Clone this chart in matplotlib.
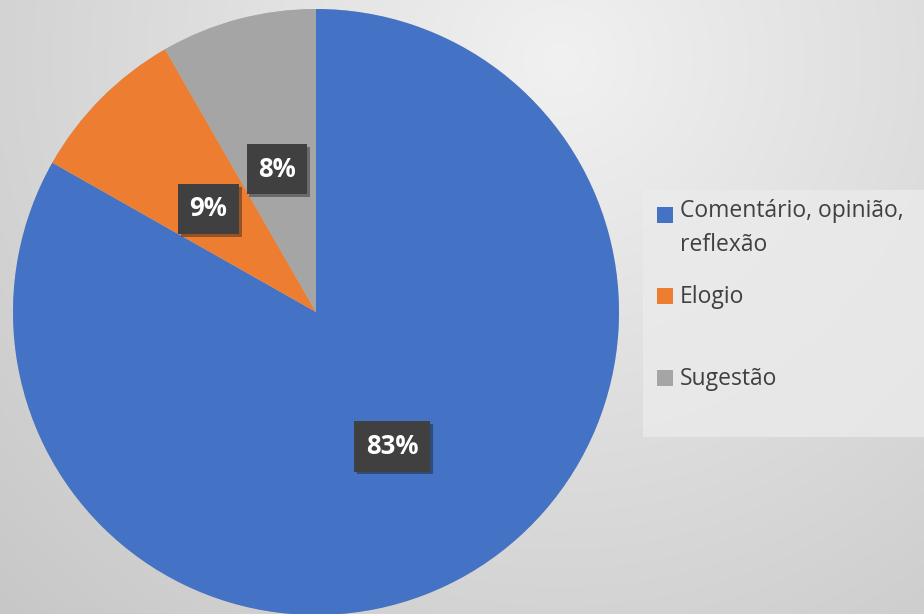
import numpy as np
import matplotlib.pyplot as plt
from matplotlib.patches import Rectangle
import matplotlib.patheffects as pe

# dados do gráfico (percentuais)
categorias = ['Comentário, opinião,\nreflexão', 'Elogio', 'Sugestão']
valores = [83.2, 8.5, 8.3]
cores = ['#4472C4', '#ED7D31', '#A5A5A5']

plt.rcParams['font.family'] = ['Open Sans', 'DejaVu Sans']

W, H = 924, 614
fig = plt.figure(figsize=(W / 100, H / 100), dpi=100)

# fundo em degradê radial
bg = fig.add_axes([0, 0, 1, 1])
yy, xx = np.mgrid[0:H, 0:W]
d = np.sqrt((xx - 560) ** 2 + (yy - 60) ** 2) / 720
g = np.clip(0.945 - 0.15 * d, 0.78, 0.95)
bg.imshow(np.dstack([g, g, g]), extent=[0, W, H, 0], aspect='auto')
bg.set_xlim(0, W)
bg.set_ylim(H, 0)
bg.axis('off')

# caixa da legenda
bg.add_patch(Rectangle((643, 190), 281, 247, facecolor='#ebebeb', edgecolor='none', alpha=0.8))

# pizza
cx, cy, r = 316, 312, 303
ax = fig.add_axes([(cx - r) / W, (H - cy - r) / H, 2 * r / W, 2 * r / H])
fatias, textos, autotextos = ax.pie(
    valores, colors=cores, startangle=90, counterclock=False,
    autopct=lambda p: f'{int(p + 0.5)}%', pctdistance=0.5,
    wedgeprops=dict(linewidth=0),
    textprops=dict(color='white', fontsize=18.5, fontweight='bold'))
for f in fatias:
    f.set_path_effects([pe.SimplePatchShadow(offset=(0, 0), shadow_rgbFace='#999999', alpha=0.5), pe.Normal()])
for t in autotextos:
    x, y = t.get_position()
    t.set_position((x, y - 0.012))
    t.set_bbox(dict(boxstyle='square,pad=0.45', facecolor='#404040', edgecolor='none'))
    t.get_bbox_patch().set_path_effects([pe.SimplePatchShadow(offset=(2, -2), alpha=0.4), pe.Normal()])
ax.set_xlim(-1, 1)
ax.set_ylim(-1, 1)
ax.set_aspect('equal')
ax.axis('off')

# legenda manual
ys = [215, 296, 378]
for lab, cor, y in zip(categorias, cores, ys):
    bg.add_patch(Rectangle((657, y - 8), 16, 16, facecolor=cor, edgecolor='none'))
    if '\n' in lab:
        bg.text(680, y - 16, lab, fontsize=16.5, color='#404040', va='top', linespacing=1.55)
    else:
        bg.text(680, y + 1, lab, fontsize=16.5, color='#404040', va='center')

fig.savefig('out.png', dpi=100)
